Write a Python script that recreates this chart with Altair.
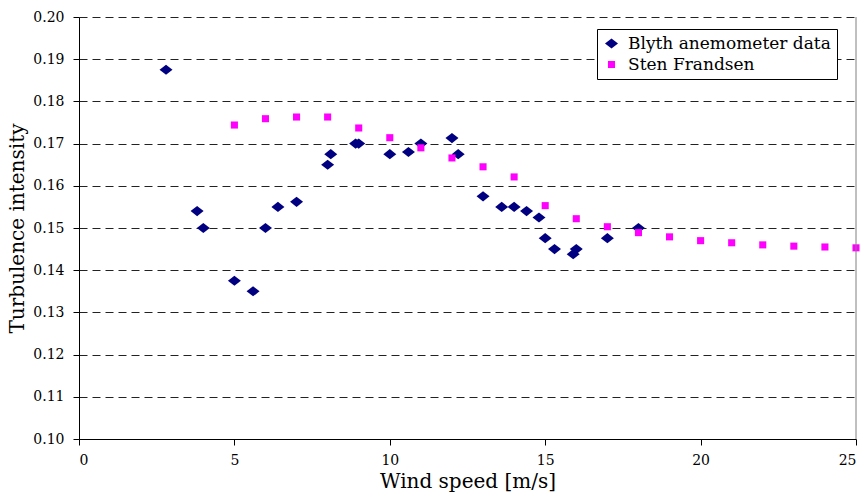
import altair as alt
import pandas as pd

blyth_x = [2.8, 3.8, 4.0, 5.0, 5.6, 6.0, 6.4, 7.0, 8.0, 8.1, 8.9, 9.0, 10.0, 10.6, 11.0,
           12.0, 12.2, 13.0, 13.6, 14.0, 14.4, 14.8, 15.0, 15.3, 15.9, 16.0, 17.0, 18.0]
blyth_y = [0.1875, 0.154, 0.150, 0.1375, 0.135, 0.150, 0.155, 0.1562, 0.165, 0.1675, 0.170,
           0.170, 0.1675, 0.168, 0.170, 0.1713, 0.1675, 0.1575, 0.155, 0.155, 0.154, 0.1525,
           0.1476, 0.145, 0.1438, 0.145, 0.1476, 0.150]

sten_x = [5, 6, 7, 8, 9, 10, 11, 12, 13, 14, 15, 16, 17, 18, 19, 20, 21, 22, 23, 24, 25]
sten_y = [0.1744, 0.1759, 0.1763, 0.1763, 0.1737, 0.1714, 0.169, 0.1666, 0.1645, 0.1621,
          0.1553, 0.1522, 0.1503, 0.1489, 0.1479, 0.1470, 0.1465, 0.1460, 0.1457, 0.1455,
          0.1453]

series_names = ["Blyth anemometer data", "Sten Frandsen"]
series_colors = ["#000080", "#FF00FF"]
diamond = "M-1,0L0,-0.78L1,0L0,0.78Z"

df = pd.concat([
    pd.DataFrame({"x": blyth_x, "y": blyth_y, "series": series_names[0]}),
    pd.DataFrame({"x": sten_x, "y": sten_y, "series": series_names[1]}),
], ignore_index=True)

FONT = "DejaVu Serif"

leg = dict(title=None, labelFont=FONT, labelFontSize=17, labelColor="black")

points = alt.Chart(df).mark_point(filled=True, opacity=1).encode(
    x=alt.X("x:Q", scale=alt.Scale(domain=[0, 25], nice=False, zero=False),
            axis=alt.Axis(title="Wind speed [m/s]", values=[0, 5, 10, 15, 20, 25],
                          grid=False, titlePadding=4, labelPadding=8,
                          labelFont=FONT, labelFontSize=14, titleFont=FONT, titleFontSize=20)),
    y=alt.Y("y:Q", scale=alt.Scale(domain=[0.10, 0.20], nice=False, zero=False),
            axis=alt.Axis(title="Turbulence intensity", format=".2f",
                          values=[0.10, 0.11, 0.12, 0.13, 0.14, 0.15, 0.16, 0.17, 0.18, 0.19, 0.20],
                          grid=True, gridColor="#222222", gridDash=[8, 5], gridWidth=1,
                          titlePadding=5, labelPadding=9,
                          labelFont=FONT, labelFontSize=14, titleFont=FONT, titleFontSize=20)),
    color=alt.Color("series:N", scale=alt.Scale(domain=series_names, range=series_colors),
                    legend=alt.Legend(**leg)),
    shape=alt.Shape("series:N", scale=alt.Scale(domain=series_names, range=[diamond, "square"]),
                    legend=alt.Legend(**leg)),
    size=alt.Size("series:N", scale=alt.Scale(domain=series_names, range=[169, 50]),
                  legend=alt.Legend(**leg)),
    order=alt.Order("order:Q"),
).transform_calculate(order="datum.series == 'Sten Frandsen' ? 1 : 0")

border = alt.Chart(pd.DataFrame({"v": [25]})).mark_rule(color="#808080", strokeWidth=1).encode(
    x=alt.X("v:Q"),
    y=alt.datum(0.10),
    y2=alt.datum(0.20),
)

chart = alt.layer(points, border).properties(
    width=777,
    height=422,
    autosize=alt.AutoSizeParams(type="none"),
    padding={"left": 79, "top": 17, "right": 9, "bottom": 59},
).configure(font=FONT).configure_view(stroke=None).configure_axis(
    labelFont=FONT, titleFont=FONT, labelFontSize=14, titleFontSize=20,
    labelColor="black", titleColor="black", titleFontWeight="normal",
    domainColor="black", domainWidth=1, tickColor="black", tickSize=6, tickWidth=1,
).configure_legend(
    orient="none", legendX=518, legendY=12,
    strokeColor="black", fillColor="white", padding=6, rowPadding=3,
    labelFont=FONT, labelFontSize=17, labelColor="black", labelOffset=8,
    labelLimit=400,
)

chart.save("out.html", embed_options={"renderer": "svg", "actions": False})
